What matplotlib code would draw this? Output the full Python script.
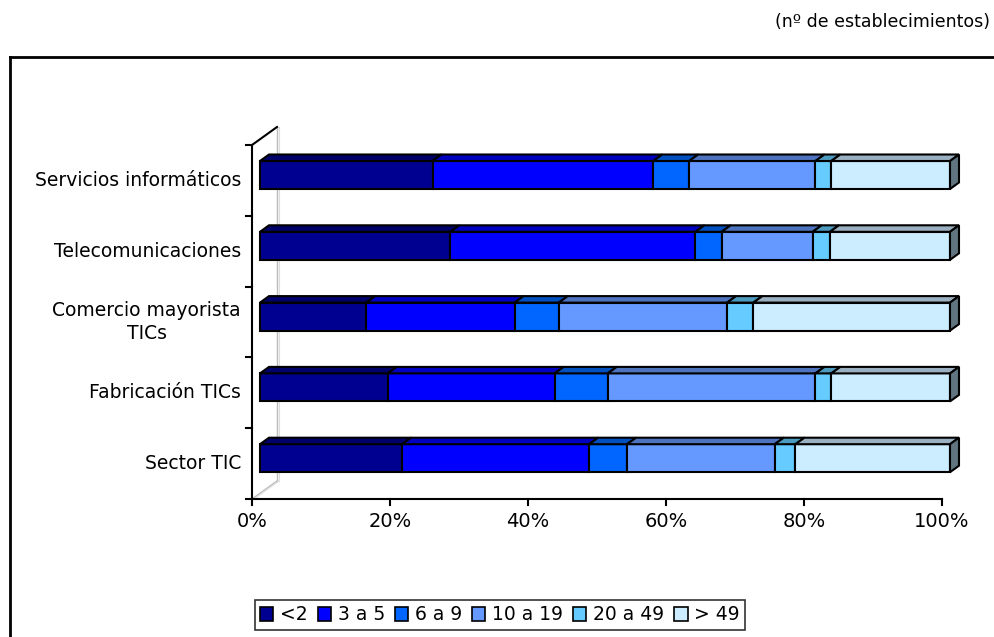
import matplotlib
matplotlib.use("Agg")
import matplotlib.pyplot as plt
from matplotlib.patches import Polygon, Patch
from matplotlib.lines import Line2D
import numpy as np

categories = ["Sector TIC", "Fabricación TICs", "Comercio mayorista\nTICs",
              "Telecomunicaciones", "Servicios informáticos"]
series_names = ["<2", "3 a 5", "6 a 9", "10 a 19", "20 a 49", "> 49"]
s_lt2 = [20.6, 18.5, 15.4, 27.6, 25.0]
s_3a5 = [27.1, 24.2, 21.5, 35.5, 32.0]
s_6a9 = [5.5, 7.7, 6.4, 3.8, 5.2]
s_10a19 = [21.4, 30.1, 24.4, 13.2, 18.3]
s_20a49 = [3.0, 2.3, 3.8, 2.5, 2.3]
s_gt49 = [22.4, 17.2, 28.5, 17.4, 17.2]
xticks = [0, 20, 40, 60, 80, 100]
xticklabels = ["0%", "20%", "40%", "60%", "80%", "100%"]

front_colors = ["#000090", "#0000FF", "#0066FF", "#6699FF", "#66CCFF", "#CCECFF"]
top_colors = ["#00006A", "#0000C0", "#0050C0", "#4D73BF", "#4D9ABF", "#9AAFBF"]
side_color = "#607580"

W, H = 994, 637
fig = plt.figure(figsize=(W / 100, H / 100), dpi=100)
plt.rcParams['font.family'] = ['DejaVu Sans']
FS_CAT = 13.5
FS_TICK = 14
FS_LEG = 13.5
FS_TOP = 12.5

# axes: x 0..100 -> px 252..942 ; y -0.5..4.5 -> px 499..145
x0, x1 = 252, 942
ytop, ybot = 145, 499
ax = fig.add_axes([x0 / W, 1 - ybot / H, (x1 - x0) / W, (ybot - ytop) / H])
ax.set_xlim(0, 100)
ax.set_ylim(-0.5, 4.5)
for s in ax.spines.values():
    s.set_visible(False)
ax.set_facecolor("none")

pxx = 100 / (x1 - x0)          # data per px in x
pxy = 5 / (ybot - ytop)         # data per px in y

# back wall (gray)
bx = 25 * pxx
by = 18 * pxy
ax.plot([bx, bx], [-0.5 + by, 4.5 + by], color="#BBBBBB", lw=1.0, clip_on=False, zorder=1)
ax.plot([bx + 2 * pxx, bx + 2 * pxx], [-0.5 + by, 4.5 + by], color="#DDDDDD", lw=0.8, clip_on=False, zorder=1)
ax.plot([0, bx], [-0.5, -0.5 + by], color="#BBBBBB", lw=1.0, clip_on=False, zorder=1)
ax.plot([0.3, bx + 2 * pxx], [-0.5, -0.5 + by], color="#DDDDDD", lw=0.8, clip_on=False, zorder=1)

# axis lines
ax.plot([0, 0], [-0.5, 4.5], color="black", lw=1.5, clip_on=False, zorder=5)
ax.plot([0, bx], [4.5, 4.5 + by], color="black", lw=1.5, clip_on=False, zorder=5)
ax.plot([0, 100], [-0.5, -0.5], color="black", lw=1.5, clip_on=False, zorder=5)
for k in range(6):
    ax.plot([0, -6 * pxx], [-0.5 + k, -0.5 + k], color="black", lw=1.5, clip_on=False, zorder=5)
for t in xticks:
    ax.plot([t, t], [-0.5, -0.5 - 6 * pxy], color="black", lw=1.5, clip_on=False, zorder=5)

ax.set_xticks([])
ax.set_yticks([])
for t, lab in zip(xticks, xticklabels):
    ax.text(t, -0.5 - 13 * pxy, lab, ha="center", va="top", fontsize=FS_TICK)
for i, c in enumerate(categories):
    ax.text(-11 * pxx, i, c, ha="right", va="center", fontsize=FS_CAT,
            multialignment="center", linespacing=1.3)

# bars (3D look: front face shifted right, top and side faces)
series = [s_lt2, s_3a5, s_6a9, s_10a19, s_20a49, s_gt49]
ypos = np.arange(len(categories)) + 5.4 * pxy
bh = 28 * pxy
front_off = 8 * pxx
ddx = 9 * pxx
ddy = 6.5 * pxy
left = np.zeros(len(categories))
for j, vals in enumerate(series):
    vals = np.array(vals)
    ax.barh(ypos, vals, left=left + front_off, height=bh, color=front_colors[j],
            edgecolor="black", linewidth=1.5, zorder=3, clip_on=False)
    for i in range(len(categories)):
        l = left[i] + front_off
        r = left[i] + vals[i] + front_off
        top = ypos[i] + bh / 2
        ax.add_patch(Polygon([(l, top), (l + ddx, top + ddy), (r + ddx, top + ddy), (r, top)],
                             closed=True, facecolor=top_colors[j], edgecolor="black",
                             linewidth=1.5, zorder=3, clip_on=False))
    left = left + vals
for i in range(len(categories)):
    r = left[i] + front_off
    top = ypos[i] + bh / 2
    bot = ypos[i] - bh / 2
    ax.add_patch(Polygon([(r, bot), (r + ddx, bot + ddy), (r + ddx, top + ddy), (r, top)],
                         closed=True, facecolor=side_color, edgecolor="black",
                         linewidth=1.5, zorder=3, clip_on=False))

# outer frame (left and top edges visible)
fig.add_artist(Line2D([10 / W, 10 / W], [1 - 57 / H, 0], color="black", lw=2, transform=fig.transFigure))
fig.add_artist(Line2D([10 / W, 1], [1 - 57 / H, 1 - 57 / H], color="black", lw=2, transform=fig.transFigure))

fig.text(990 / W, 1 - 22 / H, "(nº de establecimientos)", ha="right", va="center", fontsize=FS_TOP)

handles = [Patch(facecolor=front_colors[j], edgecolor="black", linewidth=1.2, label=series_names[j])
           for j in range(6)]
leg = fig.legend(handles=handles, loc="center", bbox_to_anchor=(500 / W, 1 - 615 / H), ncol=6,
                 frameon=True, fancybox=False, edgecolor="black", fontsize=FS_LEG,
                 handlelength=0.7, handleheight=0.7, handletextpad=0.35, columnspacing=0.55,
                 borderpad=0.3, borderaxespad=0)
leg.get_frame().set_linewidth(1.2)

fig.savefig("out.png", dpi=100)
